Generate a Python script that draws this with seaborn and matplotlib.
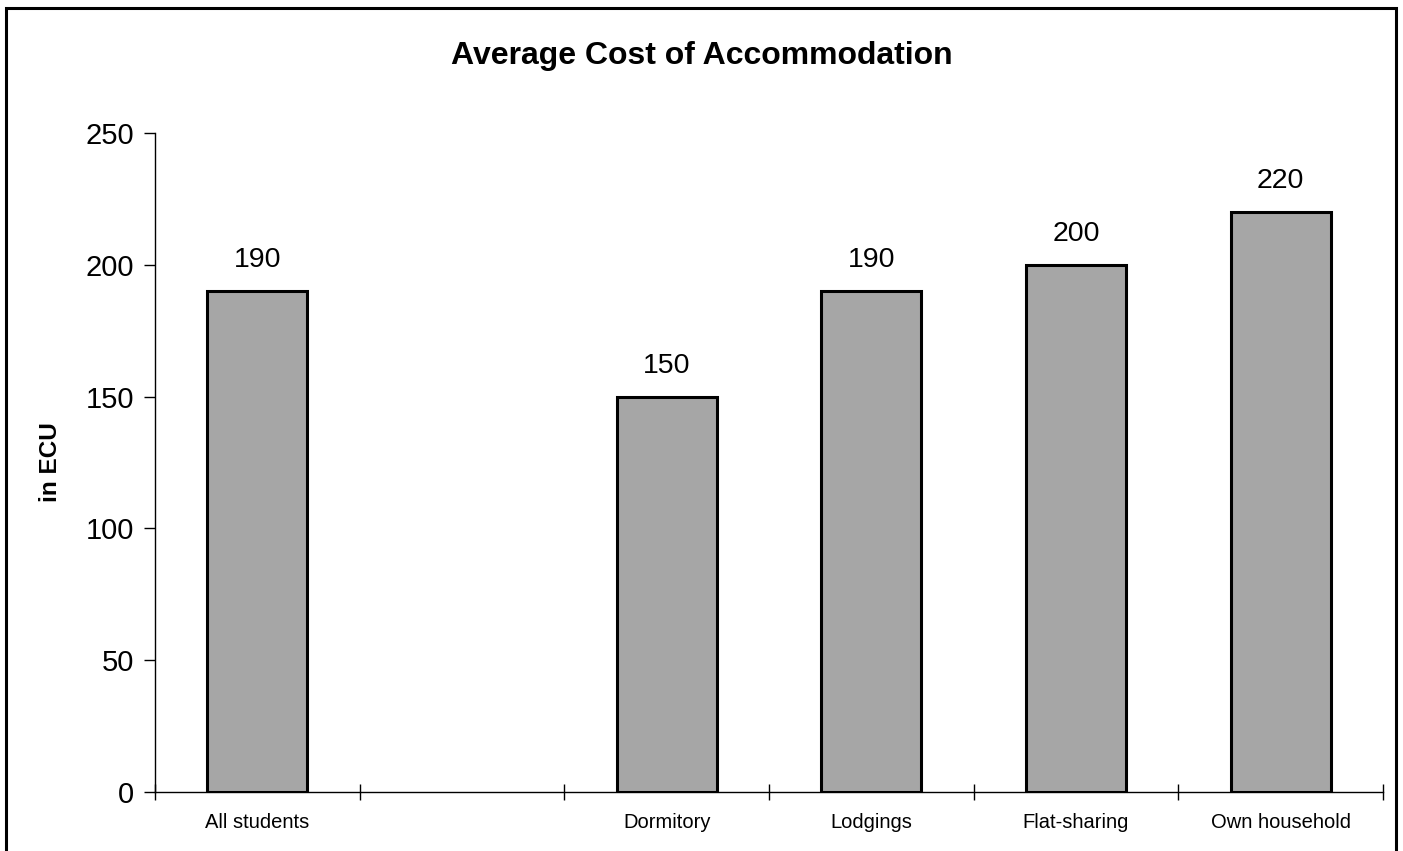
import matplotlib
matplotlib.use("Agg")
import matplotlib.pyplot as plt
import seaborn as sns
import pandas as pd
from matplotlib.patches import Rectangle

# Average monthly accommodation cost (ECU) by type of housing
categories = ["All students", "Dormitory", "Lodgings", "Flat-sharing", "Own household"]
costs = [190, 150, 190, 200, 220]
# layout order, with an empty slot separating the total from the breakdown
slot_order = ["All students", " ", "Dormitory", "Lodgings", "Flat-sharing", "Own household"]
y_ticks = [0, 50, 100, 150, 200, 250]

sns.set_theme(style="white")
plt.rcParams["font.family"] = ["Liberation Sans", "DejaVu Sans"]
plt.rcParams["text.color"] = "black"

df = pd.DataFrame({"category": categories, "cost": costs})

fig = plt.figure(figsize=(14.03, 8.51), dpi=100)
ax = fig.add_axes([155 / 1403, 1 - 792 / 851, (1383 - 155) / 1403, (792 - 133) / 851])

sns.barplot(data=df, x="category", y="cost", order=slot_order, color="#a6a6a6",
            saturation=1, width=0.49, edgecolor="black", linewidth=2.2, ax=ax)

for patch in ax.patches:
    h = patch.get_height()
    if h != h or h == 0:
        continue
    ax.annotate(f"{h:.0f}", (patch.get_x() + patch.get_width() / 2, h),
                xytext=(0, 13), textcoords="offset points",
                ha="center", va="bottom", fontsize=20.5, color="black")

ax.set_xlim(-0.5, len(slot_order) - 0.5)
ax.set_ylim(0, 250)
ax.set_yticks(y_ticks)
ax.tick_params(axis="y", direction="out", length=8, width=1, labelsize=21, pad=7,
               left=True, colors="black")

# category labels sit between boundary ticks
ax.set_xticks([i - 0.5 for i in range(len(slot_order) + 1)])
ax.set_xticklabels([])
ax.set_xticks(range(len(slot_order)), minor=True)
ax.set_xticklabels(slot_order, minor=True, fontsize=14.5)
ax.tick_params(axis="x", which="major", direction="inout", length=12, width=1,
               bottom=True, colors="black")
ax.tick_params(axis="x", which="minor", length=0, pad=15, bottom=True, colors="black")

for side in ["top", "right"]:
    ax.spines[side].set_visible(False)
for side in ["left", "bottom"]:
    ax.spines[side].set_color("black")
    ax.spines[side].set_linewidth(1)

ax.set_xlabel("")
ax.set_ylabel("in ECU", fontsize=17.5, fontweight="bold", color="black")
ax.yaxis.set_label_coords(-93 / 1228, 0.5)

fig.suptitle("Average Cost of Accommodation", x=0.5, y=1 - 56 / 851, va="center",
             fontsize=23, fontweight="bold", color="black")

# outer chart frame
fig.patches.append(Rectangle((6 / 1403, -0.05), (1396 - 6) / 1403, 1.05 - 8 / 851,
                             transform=fig.transFigure, fill=False,
                             edgecolor="black", linewidth=2.2))

fig.savefig("out.png", dpi=100, facecolor="white")
